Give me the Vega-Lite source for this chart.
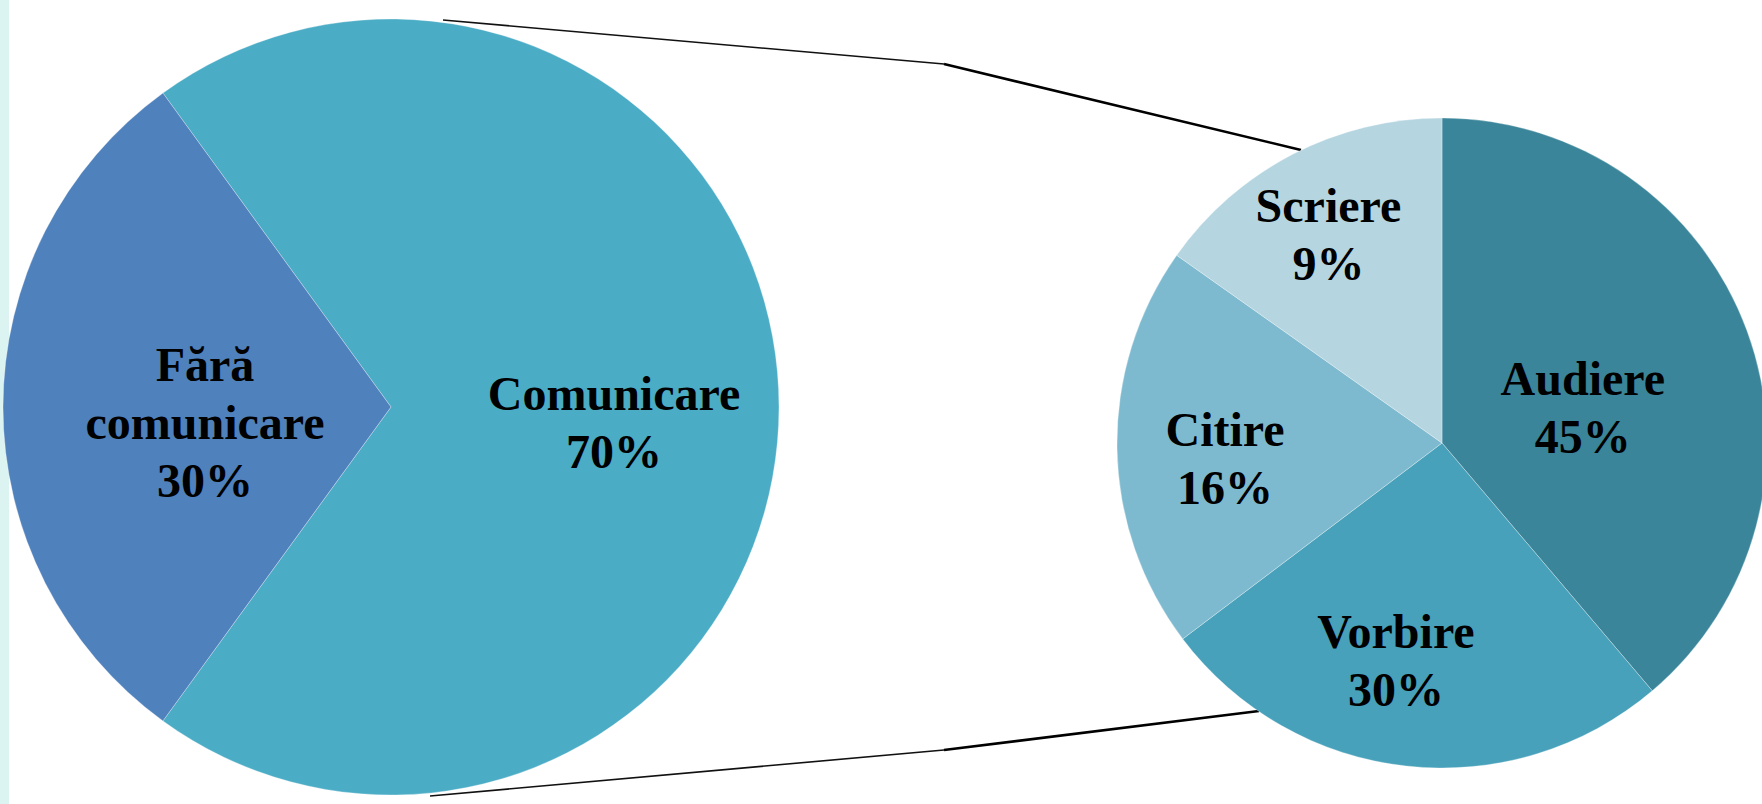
{
  "$schema": "https://vega.github.io/schema/vega-lite/v6.json",
  "width": 1753,
  "height": 804,
  "autosize": {"type": "none"},
  "padding": {"left": 9, "top": 0, "right": 0, "bottom": 0},
  "background": "#DCF4F1",
  "config": {"view": {"stroke": null, "fill": "white"}},
  "datasets": {
    "slices": [
      {"pie": "main", "category": "Comunicare", "rank": 1, "share": 70, "label": "Comunicare\n70%"},
      {"pie": "main", "category": "Fără comunicare", "rank": 2, "share": 30, "label": "Fără\ncomunicare\n30%"},
      {"pie": "detail", "category": "Audiere", "rank": 1, "share": 38.8, "label": "Audiere\n45%"},
      {"pie": "detail", "category": "Vorbire", "rank": 2, "share": 25.9, "label": "Vorbire\n30%"},
      {"pie": "detail", "category": "Citire", "rank": 3, "share": 20.1, "label": "Citire\n16%"},
      {"pie": "detail", "category": "Scriere", "rank": 4, "share": 15.2, "label": "Scriere\n9%"}
    ],
    "connectors": [
      {"part": "outer", "x": 443, "y": 20, "x2": 944, "y2": 64},
      {"part": "outer", "x": 430, "y": 796, "x2": 944, "y2": 750},
      {"part": "inner", "x": 944, "y": 64, "x2": 1301, "y2": 150},
      {"part": "inner", "x": 944, "y": 750, "x2": 1259, "y2": 711}
    ]
  },
  "resolve": {"scale": {"x": "independent", "y": "independent", "theta": "independent"}},
  "layer": [
    {
      "data": {"name": "connectors"},
      "encoding": {
        "x": {"field": "x", "type": "quantitative", "scale": {"domain": [9, 1762], "nice": false, "zero": false}, "axis": null},
        "y": {"field": "y", "type": "quantitative", "scale": {"domain": [0, 804], "reverse": true, "nice": false, "zero": false}, "axis": null},
        "x2": {"field": "x2"},
        "y2": {"field": "y2"}
      },
      "layer": [
        {"transform": [{"filter": "datum.part === 'outer'"}], "mark": {"type": "rule", "color": "#111111", "strokeWidth": 1.6}},
        {"transform": [{"filter": "datum.part === 'inner'"}], "mark": {"type": "rule", "color": "#000000", "strokeWidth": 2.6}}
      ]
    },
    {
      "data": {"name": "slices"},
      "transform": [
        {"filter": "datum.pie === 'main'"},
        {"stack": "share", "groupby": [], "sort": [{"field": "rank", "order": "ascending"}], "as": ["v0", "v1"]},
        {"calculate": "(datum.v0 + datum.v1) / 2", "as": "mid"}
      ],
      "encoding": {
        "x": {"field": "pie", "type": "nominal", "scale": {"type": "point", "domain": ["main", "detail"], "range": [382, 1433], "padding": 0}, "axis": null},
        "y": {"field": "pie", "type": "nominal", "scale": {"type": "point", "domain": ["main", "detail"], "range": [407, 443], "padding": 0}, "axis": null}
      },
      "layer": [
        {
          "mark": {"type": "arc", "outerRadius": 388, "stroke": "#ffffff", "strokeWidth": 0.6, "strokeOpacity": 0.5},
          "encoding": {
            "theta": {"field": "v0", "type": "quantitative", "scale": {"domain": [0, 100], "range": [-0.6283, 5.6549]}},
            "theta2": {"field": "v1"},
            "color": {"field": "category", "type": "nominal", "legend": null,
              "scale": {"domain": ["Comunicare", "Fără comunicare", "Audiere", "Vorbire", "Citire", "Scriere"],
                        "range": ["#4BACC6", "#4F81BD", "#3A8599", "#48A1BA", "#7EBACF", "#B5D5E0"]}}
          }
        },
        {
          "transform": [{"filter": "datum.category === 'Comunicare'"}],
          "mark": {"type": "text", "font": "Liberation Serif", "fontWeight": "bold", "fontSize": 48, "lineHeight": 58, "lineBreak": "\n", "align": "center", "baseline": "middle", "radius": 223, "dy": -11, "color": "#000000"},
          "encoding": {
            "theta": {"field": "mid", "type": "quantitative", "stack": null, "scale": {"domain": [0, 100], "range": [-0.6283, 5.6549]}},
            "text": {"field": "label"}
          }
        },
        {
          "transform": [{"filter": "datum.category === 'Fără comunicare'"}],
          "mark": {"type": "text", "font": "Liberation Serif", "fontWeight": "bold", "fontSize": 48, "lineHeight": 58, "lineBreak": "\n", "align": "center", "baseline": "middle", "radius": 186, "dy": -40, "color": "#000000"},
          "encoding": {
            "theta": {"field": "mid", "type": "quantitative", "stack": null, "scale": {"domain": [0, 100], "range": [-0.6283, 5.6549]}},
            "text": {"field": "label"}
          }
        }
      ]
    },
    {
      "data": {"name": "slices"},
      "transform": [
        {"filter": "datum.pie === 'detail'"},
        {"stack": "share", "groupby": [], "sort": [{"field": "rank", "order": "ascending"}], "as": ["v0", "v1"]},
        {"calculate": "(datum.v0 + datum.v1) / 2", "as": "mid"}
      ],
      "encoding": {
        "x": {"field": "pie", "type": "nominal", "scale": {"type": "point", "domain": ["main", "detail"], "range": [382, 1433], "padding": 0}, "axis": null},
        "y": {"field": "pie", "type": "nominal", "scale": {"type": "point", "domain": ["main", "detail"], "range": [407, 443], "padding": 0}, "axis": null}
      },
      "layer": [
        {
          "mark": {"type": "arc", "outerRadius": 325, "stroke": "#ffffff", "strokeWidth": 0.6, "strokeOpacity": 0.5},
          "encoding": {
            "theta": {"field": "v0", "type": "quantitative", "scale": {"domain": [0, 100], "range": [0, 6.2832]}},
            "theta2": {"field": "v1"},
            "color": {"field": "category", "type": "nominal", "legend": null,
              "scale": {"domain": ["Comunicare", "Fără comunicare", "Audiere", "Vorbire", "Citire", "Scriere"],
                        "range": ["#4BACC6", "#4F81BD", "#3A8599", "#48A1BA", "#7EBACF", "#B5D5E0"]}}
          }
        },
        {
          "transform": [{"filter": "datum.category === 'Audiere'"}],
          "mark": {"type": "text", "font": "Liberation Serif", "fontWeight": "bold", "fontSize": 48, "lineHeight": 58, "lineBreak": "\n", "align": "center", "baseline": "middle", "radius": 150, "dy": -10, "color": "#000000"},
          "encoding": {
            "theta": {"field": "mid", "type": "quantitative", "stack": null, "scale": {"domain": [0, 100], "range": [0, 6.2832]}},
            "text": {"field": "label"}
          }
        },
        {
          "transform": [{"filter": "datum.category === 'Vorbire'"}],
          "mark": {"type": "text", "font": "Liberation Serif", "fontWeight": "bold", "fontSize": 48, "lineHeight": 58, "lineBreak": "\n", "align": "center", "baseline": "middle", "radius": 219, "dx": -22, "dy": -27, "color": "#000000"},
          "encoding": {
            "theta": {"field": "mid", "type": "quantitative", "stack": null, "scale": {"domain": [0, 100], "range": [0, 6.2832]}},
            "text": {"field": "label"}
          }
        },
        {
          "transform": [{"filter": "datum.category === 'Citire'"}],
          "mark": {"type": "text", "font": "Liberation Serif", "fontWeight": "bold", "fontSize": 48, "lineHeight": 58, "lineBreak": "\n", "align": "center", "baseline": "middle", "radius": 217, "dy": -14, "color": "#000000"},
          "encoding": {
            "theta": {"field": "mid", "type": "quantitative", "stack": null, "scale": {"domain": [0, 100], "range": [0, 6.2832]}},
            "text": {"field": "label"}
          }
        },
        {
          "transform": [{"filter": "datum.category === 'Scriere'"}],
          "mark": {"type": "text", "font": "Liberation Serif", "fontWeight": "bold", "fontSize": 48, "lineHeight": 58, "lineBreak": "\n", "align": "center", "baseline": "middle", "radius": 234, "dx": -6, "dy": -27, "color": "#000000"},
          "encoding": {
            "theta": {"field": "mid", "type": "quantitative", "stack": null, "scale": {"domain": [0, 100], "range": [0, 6.2832]}},
            "text": {"field": "label"}
          }
        }
      ]
    }
  ]
}
